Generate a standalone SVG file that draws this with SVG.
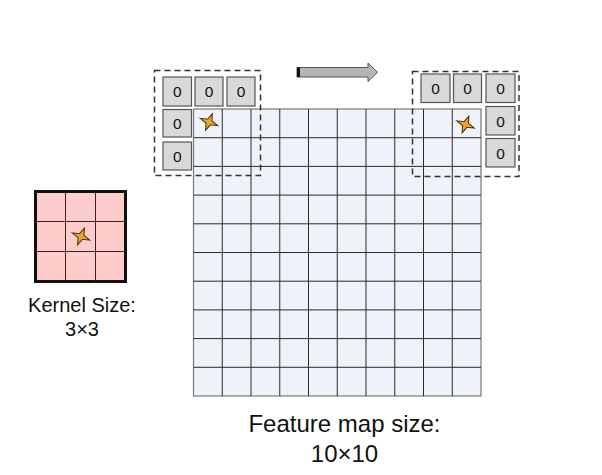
<svg xmlns="http://www.w3.org/2000/svg" width="602" height="475" viewBox="0 0 602 475">
<defs>
<style>
.cell{fill:#eff2f9;stroke:#2b2b2b;stroke-width:1}
.zero{fill:#d9d9d9;stroke:#555;stroke-width:1.2}
.zt{font-family:"Liberation Sans",Arial,sans-serif;font-size:15.5px;fill:#111;text-anchor:middle}
.lbl{font-family:"Liberation Sans",Arial,sans-serif;fill:#111;text-anchor:middle}
.dash{fill:none;stroke:#333;stroke-width:1.5;stroke-dasharray:6,4}
.star{fill:#f0a224;stroke:#3a2a10;stroke-width:1}
</style>
<path id="starShape" d="M0,-9.5 L2.3,-2.3 L9.5,0 L2.3,2.3 L0,9.5 L-2.3,2.3 L-9.5,0 L-2.3,-2.3 Z"/>
</defs>
<rect width="602" height="475" fill="#ffffff"/>
<g id="feature-map">
<rect x="193.5" y="109" width="287.5" height="287" fill="#eff2f9" stroke="#777" stroke-width="1.2"/>
<path d="M222.25,109V396M251,109V396M279.75,109V396M308.5,109V396M337.25,109V396M366,109V396M394.75,109V396M423.5,109V396M452.25,109V396M193.5,137.7H481M193.5,166.4H481M193.5,195.1H481M193.5,223.8H481M193.5,252.5H481M193.5,281.2H481M193.5,309.9H481M193.5,338.6H481M193.5,367.3H481" stroke="#2b2b2b" stroke-width="1" fill="none"/>
</g>
<g id="left-padding">
<rect class="dash" x="154.5" y="70.5" width="106" height="105"/>
<rect class="zero" x="163" y="77" width="28.5" height="29"/><text class="zt" x="177.2" y="97">0</text>
<rect class="zero" x="195" y="77" width="28" height="29"/><text class="zt" x="209" y="97">0</text>
<rect class="zero" x="227" y="77" width="28" height="29"/><text class="zt" x="241" y="97">0</text>
<rect class="zero" x="163" y="109.5" width="28.5" height="27.5"/><text class="zt" x="177.2" y="129">0</text>
<rect class="zero" x="163" y="142" width="28.5" height="28"/><text class="zt" x="177.2" y="161.5">0</text>
<use href="#starShape" class="star" transform="translate(209,122) rotate(22) scale(1,0.95)"/>
</g>
<g id="right-padding">
<rect class="dash" x="412.5" y="71.5" width="106.5" height="105"/>
<rect class="zero" x="421" y="74" width="29" height="28.5"/><text class="zt" x="435.5" y="94">0</text>
<rect class="zero" x="453.5" y="74" width="28" height="28.5"/><text class="zt" x="467.5" y="94">0</text>
<rect class="zero" x="486" y="74" width="29" height="28.5"/><text class="zt" x="500.5" y="94">0</text>
<rect class="zero" x="486" y="106.5" width="29" height="28.5"/><text class="zt" x="500.5" y="126.5">0</text>
<rect class="zero" x="486" y="138.5" width="29" height="28.5"/><text class="zt" x="500.5" y="158.5">0</text>
<use href="#starShape" class="star" transform="translate(465.5,124.5) rotate(22) scale(1,0.95)"/>
</g>
<g id="connectors">
<path d="M297,67.5 H368 V63 L377.5,72.3 L368,81.5 V77 H297 Z" fill="#b5b5b5" stroke="#555" stroke-width="1"/>
<rect x="297" y="67.5" width="3" height="9.5" fill="#111"/>
</g>
<g id="kernel">
<rect x="35.5" y="191.5" width="90" height="90" fill="#ffcccc" stroke="#111" stroke-width="3"/>
<path d="M65.5,191.5V281.5M95.5,191.5V281.5M35.5,221.5H125.5M35.5,251.5H125.5" stroke="#3a2020" stroke-width="1" fill="none"/>
<use href="#starShape" class="star" transform="translate(81,236.5) rotate(22) scale(1,0.95)"/>
<text class="lbl" x="82" y="311.5" font-size="20">Kernel Size:</text>
<text class="lbl" x="82" y="336" font-size="20">3×3</text>
</g>
<g id="feature-label">
<text class="lbl" x="344.5" y="432" font-size="24">Feature map size:</text>
<text class="lbl" x="344.5" y="462" font-size="24">10×10</text>
</g>
</svg>
